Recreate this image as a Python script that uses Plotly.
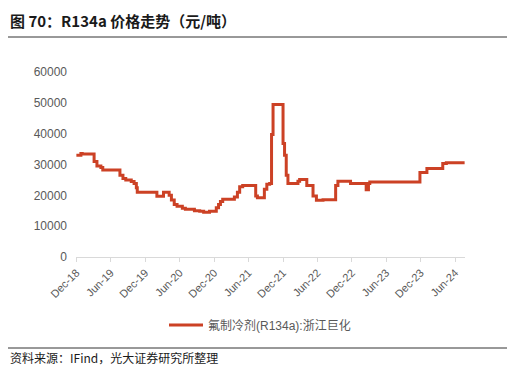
import plotly.graph_objects as go

dates = ["2018-12-01", "2018-12-25", "2019-01-01", "2019-02-20", "2019-03-05", "2019-03-20",
         "2019-04-10", "2019-04-20", "2019-07-20", "2019-08-05", "2019-08-20", "2019-09-18",
         "2019-10-03", "2019-10-15", "2019-10-20", "2020-02-01", "2020-03-07", "2020-04-06",
         "2020-04-18", "2020-05-03", "2020-05-18", "2020-06-15", "2020-07-01", "2020-08-18",
         "2020-09-15", "2020-10-06", "2020-11-06", "2020-12-12", "2020-12-24", "2021-01-03",
         "2021-01-15", "2021-03-18", "2021-04-03", "2021-04-15", "2021-05-01", "2021-07-09",
         "2021-07-18", "2021-08-24", "2021-09-06", "2021-09-21", "2021-10-01", "2021-10-09",
         "2021-12-01", "2021-12-09", "2021-12-18", "2021-12-27", "2022-02-18", "2022-02-27",
         "2022-04-06", "2022-05-09", "2022-05-27", "2022-07-01", "2022-09-06", "2022-09-18",
         "2022-11-24", "2023-02-15", "2023-02-27", "2023-03-06", "2023-11-27", "2024-01-03",
         "2024-03-27", "2024-04-15", "2024-07-21"]
prices = [33000, 33600, 33400, 33400, 31000, 29500,
          29000, 28200, 26500, 25500, 25000, 24500,
          23800, 22500, 21000, 19700, 21000, 20000,
          18500, 17000, 16500, 15800, 15500, 15000,
          14800, 14500, 14800, 16000, 17000, 18000,
          18700, 19500, 21000, 22800, 23200, 19800,
          19200, 22000, 23600, 23800, 39700, 49500,
          36800, 33000, 26500, 23800, 24600, 25100,
          23200, 19800, 18400, 18600, 23200, 24600,
          23800, 21800, 23800, 24300, 27400, 28700,
          30300, 30600, 30600]

tick_dates = ["2018-12-01", "2019-06-01", "2019-12-01", "2020-06-01", "2020-12-01", "2021-06-01",
              "2021-12-01", "2022-06-01", "2022-12-01", "2023-06-01", "2023-12-01", "2024-06-01"]
tick_labels = ["Dec-18", "Jun-19", "Dec-19", "Jun-20", "Dec-20", "Jun-21",
               "Dec-21", "Jun-22", "Dec-22", "Jun-23", "Dec-23", "Jun-24"]
y_ticks = [0, 10000, 20000, 30000, 40000, 50000, 60000]
y_labels = ["0", "10000", "20000", "30000", "40000", "50000", "60000"]

series_name = "氟制冷剂(R134a):浙江巨化"
title_text = "图 70：R134a 价格走势（元/吨）"
source_text = "资料来源：IFind，光大证券研究所整理"

# page body adds an 8px offset; figure is sized to fit the remaining window
W, H = 507, 362
L, T, R, B = 68, 64, 50, 113
PW, PH = W - L - R, H - T - B


def px(x):
    return (x - L) / PW


def py(y):
    return (H - B - y) / PH


fig = go.Figure()
fig.add_trace(go.Scatter(
    x=dates, y=prices, mode="lines", line_shape="hv",
    line=dict(color="#CC4125", width=3), name=series_name,
))

cjk = "Noto Sans CJK SC, sans-serif"
latin = "Liberation Sans, Noto Sans CJK SC, sans-serif"
fig.update_layout(
    width=W, height=H,
    margin=dict(l=L, r=R, t=T, b=B),
    paper_bgcolor="white", plot_bgcolor="white",
    font=dict(family=latin, color="#595959", size=11),
    showlegend=True,
    legend=dict(orientation="h", x=px(252), xanchor="center", y=py(317), yanchor="middle",
                font=dict(size=12, color="#595959", family=latin), itemwidth=34),
    xaxis=dict(
        range=["2018-11-29", "2024-07-23"],
        tickmode="array", tickvals=tick_dates, ticktext=tick_labels,
        tickangle=-45, showgrid=False, showline=True, linecolor="#D9D9D9", linewidth=1,
        ticks="outside", ticklen=4, tickcolor="#D9D9D9",
        tickfont=dict(size=11, color="#595959", family=latin),
        zeroline=False,
    ),
    yaxis=dict(
        range=[0, 60000], tickmode="array", tickvals=y_ticks, ticktext=y_labels,
        showgrid=False, showline=False, zeroline=False, ticks="",
        tickfont=dict(size=12, color="#595959", family=latin), ticklabelstandoff=8,
    ),
)

fig.add_annotation(text="<b>" + title_text + "</b>", xref="paper", yref="paper",
                   x=px(0), y=py(0), xanchor="left", yanchor="top",
                   showarrow=False, font=dict(size=15, color="#1a1a1a", family=cjk))
fig.add_annotation(text=source_text, xref="paper", yref="paper",
                   x=px(0), y=py(349), xanchor="left", yanchor="middle",
                   showarrow=False, font=dict(size=12, color="#1a1a1a", family=cjk))
fig.add_shape(type="line", xref="paper", yref="paper",
              x0=px(0), x1=px(502), y0=py(29), y1=py(29),
              line=dict(color="#333333", width=1))
fig.add_shape(type="line", xref="paper", yref="paper",
              x0=px(0), x1=px(502), y0=py(340), y1=py(340),
              line=dict(color="#333333", width=1))

fig.write_html("out.html")
